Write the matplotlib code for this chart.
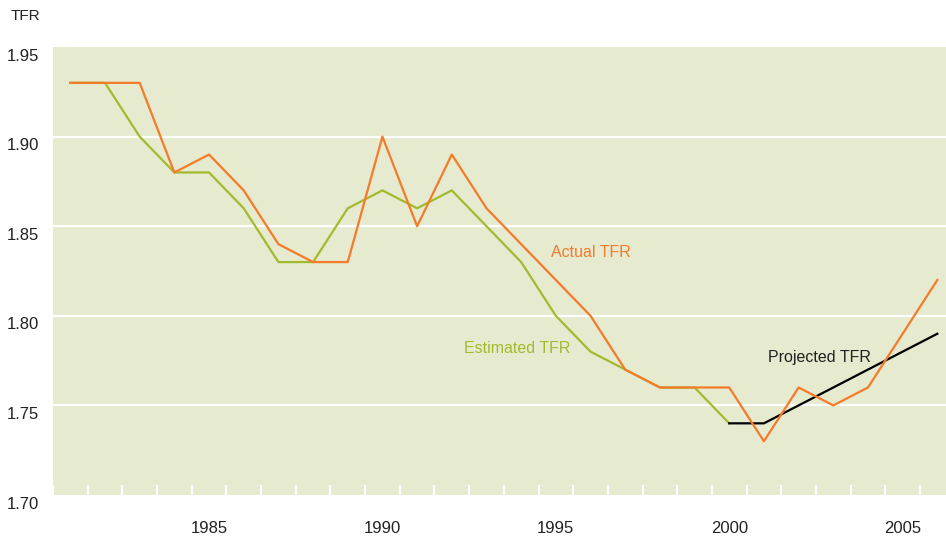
import numpy as np
import matplotlib
matplotlib.use('Agg')
import matplotlib.pyplot as plt
from matplotlib.transforms import offset_copy

plt.rcParams['font.family'] = ['Liberation Sans Narrow', 'Liberation Sans', 'DejaVu Sans']

# data
years = list(range(1981, 2007))
actual = [1.93, 1.93, 1.93, 1.88, 1.89, 1.87, 1.84, 1.83, 1.83, 1.90,
          1.85, 1.89, 1.86, 1.84, 1.82, 1.80, 1.77, 1.76, 1.76, 1.76,
          1.73, 1.76, 1.75, 1.76, 1.79, 1.82]
est_years = list(range(1981, 2001))
estimated = [1.93, 1.93, 1.90, 1.88, 1.88, 1.86, 1.83, 1.83, 1.86, 1.87,
             1.86, 1.87, 1.85, 1.83, 1.80, 1.78, 1.77, 1.76, 1.76, 1.74]
proj_years = list(range(2000, 2007))
projected = [1.74, 1.74, 1.75, 1.76, 1.77, 1.78, 1.79]
yticks = [1.70, 1.75, 1.80, 1.85, 1.90, 1.95]
xlabels = [1985, 1990, 1995, 2000, 2005]

bg = '#e6eacf'
orange = '#f47b2a'
green = '#a3ba2e'
txt = '#222222'

fig = plt.figure(figsize=(9.46, 5.38), dpi=100)
ax = fig.add_axes([0.056, 0.0799, 0.944, 0.8327])
ax.set_facecolor(bg)

for y in yticks[1:-1]:
    ax.axhline(y, color='white', lw=1.6, zorder=1)

ax.plot(est_years, estimated, color=green, lw=1.6, zorder=3)
ax.plot(proj_years, projected, color='black', lw=1.6, zorder=3)
ax.plot(years, actual, color=orange, lw=1.6, zorder=4)

ax.text(1994.87, 1.8356, 'Actual TFR', color=orange, fontsize=11.5, va='center')
ax.text(1992.36, 1.782, 'Estimated TFR', color=green, fontsize=11.5, va='center')
ax.text(2001.13, 1.7765, 'Projected TFR', color=txt, fontsize=11.5, va='center')

ax.set_xlim(1980.5, 2006.25)
ax.set_ylim(1.70, 1.95)

for s in ax.spines.values():
    s.set_visible(False)

# y labels sit just under their gridline, drawn by hand
ax.set_yticks(yticks)
ax.tick_params(axis='y', length=0, labelleft=False)
ylab_tr = offset_copy(ax.get_yaxis_transform(), fig=fig, x=-14, y=-9, units='dots')
for v in yticks:
    ax.text(0, v, '%.2f' % v, transform=ylab_tr, ha='right', va='center',
            fontsize=12, color=txt, clip_on=False)

ax.set_xticks(xlabels)
ax.set_xticklabels([str(v) for v in xlabels])
ax.set_xticks(np.arange(1980.5, 2006, 1.0), minor=True)
ax.tick_params(axis='x', which='major', length=0, pad=19, labelsize=12, labelcolor=txt)
ax.tick_params(axis='x', which='minor', direction='in', length=7, width=1.6, color='white')

fig.text(11 / 946, 1 - 16.5 / 538, 'TFR', fontsize=11, color=txt, va='center')

fig.savefig('out.png', dpi=100)
